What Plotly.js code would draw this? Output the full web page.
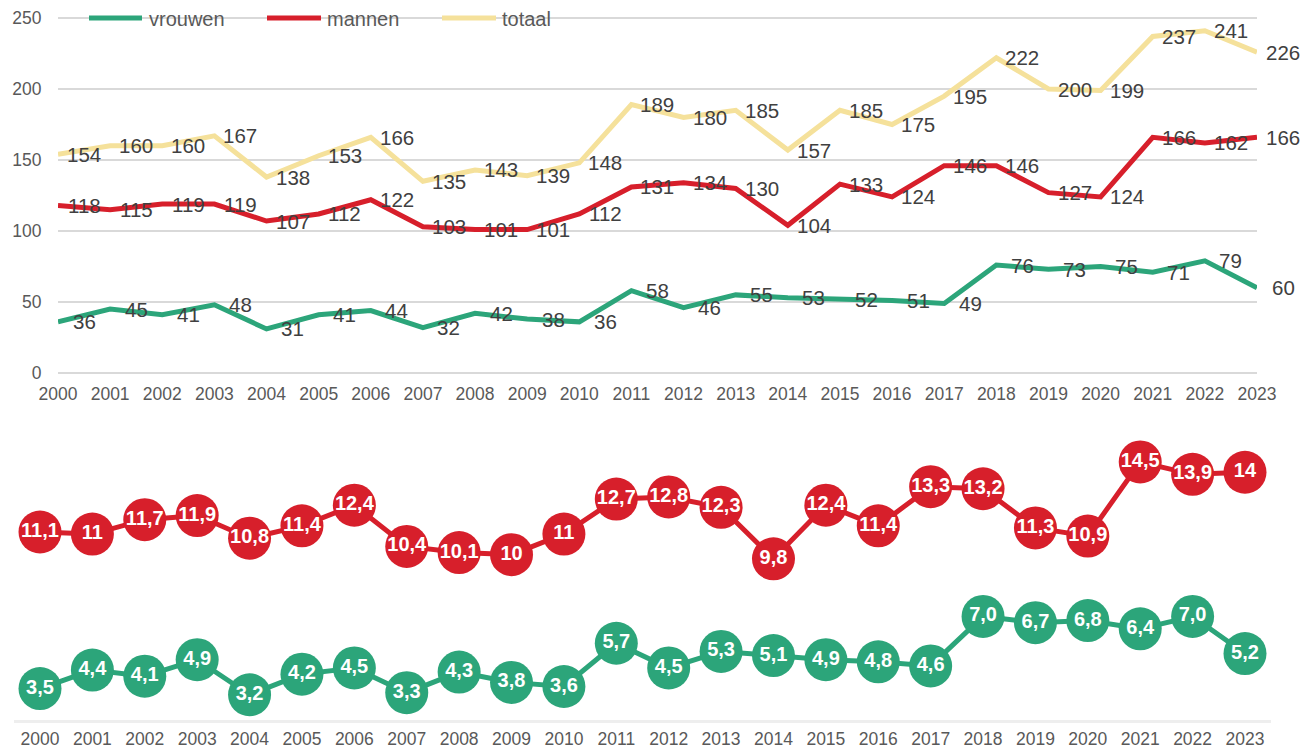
<!DOCTYPE html>
<html>
<head>
<meta charset="utf-8">
<script src="https://cdn.plot.ly/plotly-3.0.1.min.js"></script>
<style>html,body{margin:0;padding:0;background:#fff;}#chart{width:1303px;height:752px;}</style>
</head>
<body>
<div id="chart"></div>
<script>
// ---- data ----
const years = [2000,2001,2002,2003,2004,2005,2006,2007,2008,2009,2010,2011,2012,2013,2014,2015,2016,2017,2018,2019,2020,2021,2022,2023];
const vrouwen = [36,45,41,48,31,41,44,32,42,38,36,58,46,55,53,52,51,49,76,73,75,71,79,60];
const mannen  = [118,115,119,119,107,112,122,103,101,101,112,131,134,130,104,133,124,146,146,127,124,166,162,166];
const totaal  = [154,160,160,167,138,153,166,135,143,139,148,189,180,185,157,185,175,195,222,200,199,237,241,226];
const mannenRate   = [11.1,11,11.7,11.9,10.8,11.4,12.4,10.4,10.1,10,11,12.7,12.8,12.3,9.8,12.4,11.4,13.3,13.2,11.3,10.9,14.5,13.9,14];
const mannenRateLbl= ["11,1","11","11,7","11,9","10,8","11,4","12,4","10,4","10,1","10","11","12,7","12,8","12,3","9,8","12,4","11,4","13,3","13,2","11,3","10,9","14,5","13,9","14"];
const vrouwenRate   = [3.5,4.4,4.1,4.9,3.2,4.2,4.5,3.3,4.3,3.8,3.6,5.7,4.5,5.3,5.1,4.9,4.8,4.6,7.0,6.7,6.8,6.4,7.0,5.2];
const vrouwenRateLbl= ["3,5","4,4","4,1","4,9","3,2","4,2","4,5","3,3","4,3","3,8","3,6","5,7","4,5","5,3","5,1","4,9","4,8","4,6","7,0","6,7","6,8","6,4","7,0","5,2"];
const seriesNames = ["vrouwen","mannen","totaal"];
const yTicks = [0,50,100,150,200,250];

// ---- style ----
const GREEN = "#2ca57a", RED = "#d71f2b", TAN = "#f5e19b";
const W = 1303, H = 752;
const px = v => v / W, py = v => 1 - v / H;
const FONT = "Liberation Sans, Arial, sans-serif";
const TOP_L = 58, TOP_R = 1257;
const halfStep = (TOP_R - TOP_L) / (years.length - 1) / 2;

const traces = [
  {x: years, y: vrouwen, xaxis:"x", yaxis:"y", mode:"lines", name: seriesNames[0], line:{color:GREEN, width:5}, showlegend:false},
  {x: years, y: mannen,  xaxis:"x", yaxis:"y", mode:"lines", name: seriesNames[1], line:{color:RED, width:5}, showlegend:false},
  {x: years, y: totaal,  xaxis:"x", yaxis:"y", mode:"lines", name: seriesNames[2], line:{color:TAN, width:5}, showlegend:false},
  {x: years, y: mannenRate, xaxis:"x2", yaxis:"y2", mode:"lines+markers+text", text: mannenRateLbl, textposition:"middle center",
   textfont:{family:FONT, size:20, color:"#ffffff", weight:"bold"}, line:{color:RED, width:5}, marker:{color:RED, size:43}, cliponaxis:false, showlegend:false, name:"mannen"},
  {x: years, y: vrouwenRate, xaxis:"x2", yaxis:"y2", mode:"lines+markers+text", text: vrouwenRateLbl, textposition:"middle center",
   textfont:{family:FONT, size:20, color:"#ffffff", weight:"bold"}, line:{color:GREEN, width:5}, marker:{color:GREEN, size:43}, cliponaxis:false, showlegend:false, name:"vrouwen"}
];

// value labels of top chart (offset half a category to the right, as in the original)
const annotations = [];
[vrouwen, mannen, totaal].forEach(arr => {
  arr.forEach((v, i) => annotations.push({xref:"x", yref:"y", x: years[i], y: v, xshift: halfStep, showarrow:false,
    xanchor:"center", yanchor:"middle", text: String(v), font:{family:FONT, size:20.5, color:"#404040"}}));
});

// custom legend
const legendItems = [
  {name: seriesNames[0], color: GREEN, x0: 89, x1: 142, tx: 147},
  {name: seriesNames[1], color: RED, x0: 267, x1: 321, tx: 325},
  {name: seriesNames[2], color: TAN, x0: 442, x1: 496, tx: 500}
];
const shapes = [
  {type:"rect", xref:"paper", yref:"paper", x0: px(56), x1: px(584), y0: py(10), y1: py(26), fillcolor:"#ffffff", line:{width:0}, layer:"between"}
];
legendItems.forEach(it => shapes.push({type:"line", xref:"paper", yref:"paper", x0: px(it.x0), x1: px(it.x1), y0: py(18), y1: py(18), line:{color: it.color, width:5}, layer:"above"}));
legendItems.forEach(it => annotations.push({xref:"paper", yref:"paper", x: px(it.tx), y: py(19), xanchor:"left", yanchor:"middle", showarrow:false, text: it.name, font:{family:FONT, size:20, color:"#595959"}}));

const layout = {
  width: W, height: H,
  margin: {l:0, r:0, t:0, b:0},
  paper_bgcolor: "#ffffff", plot_bgcolor: "rgba(0,0,0,0)",
  showlegend: false,
  font: {family: FONT, color:"#595959"},
  xaxis: {domain:[px(TOP_L), px(TOP_R)], range:[2000, 2023], tickvals: years, ticktext: years.map(String),
          showgrid:false, zeroline:false, showline:false, ticks:"outside", ticklen:4, tickcolor:"rgba(0,0,0,0)",
          tickfont:{family:FONT, size:17.5, color:"#595959"}, fixedrange:true},
  yaxis: {domain:[py(374.4), py(16.6)], range:[-1, 251], tickvals: yTicks, showgrid:true, gridcolor:"#d9d9d9", gridwidth:1.5,
          zeroline:false, showline:false, ticks:"outside", ticklen:12, tickcolor:"rgba(0,0,0,0)",
          tickfont:{family:FONT, size:17.5, color:"#595959"}, fixedrange:true},
  xaxis2: {domain:[px(13.8), px(1271.2)], range:[1999.5, 2023.5], anchor:"y2", tickvals: years, ticktext: years.map(String),
          showgrid:false, zeroline:false, showline:true, linecolor:"#eeeeee", linewidth:3, ticks:"outside", ticklen:1, tickcolor:"rgba(0,0,0,0)",
          tickfont:{family:FONT, size:17.5, color:"#595959"}, fixedrange:true},
  yaxis2: {domain:[py(720), py(440)], range:[1.974, 15.566], anchor:"x2", visible:false, fixedrange:true},
  shapes: shapes,
  annotations: annotations
};

Plotly.newPlot("chart", traces, layout, {displayModeBar:false, staticPlot:true});
</script>
</body>
</html>
